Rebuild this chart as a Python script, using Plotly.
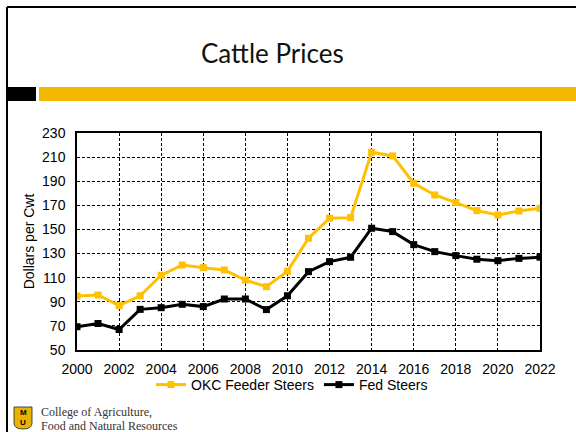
import plotly.graph_objects as go

years = list(range(2000, 2023))
okc_feeder = [94.8, 95.6, 86.8, 95.0, 112.0, 120.5, 118.3, 116.4, 108.0, 102.5, 115.3,
              142.7, 159.3, 159.8, 214.0, 211.0, 188.3, 178.6, 172.3, 165.6, 162.0, 165.3, 167.5]
fed_steers = [69.3, 72.0, 67.0, 83.7, 85.1, 87.9, 86.0, 92.3, 92.3, 83.5, 95.0,
              115.0, 123.3, 126.9, 151.0, 148.2, 137.4, 131.6, 128.3, 125.3, 124.1, 126.0, 127.0]
x_ticks = list(range(2000, 2023, 2))
y_ticks = list(range(50, 231, 20))

W, H = 576, 432
L, R, T, B = 77, 36, 133, 82
PW, PH = W - L - R, H - T - B


def px(x):
    return (x - L) / PW


def py(y):
    return (H - B - y) / PH


fig = go.Figure()
fig.add_trace(go.Scatter(x=years, y=okc_feeder, mode="lines+markers", name="OKC Feeder Steers",
                         line=dict(color="#FFC000", width=3),
                         marker=dict(symbol="square", size=7, color="#FFC000")))
fig.add_trace(go.Scatter(x=years, y=fed_steers, mode="lines+markers", name="Fed Steers",
                         line=dict(color="#000000", width=3),
                         marker=dict(symbol="square", size=7, color="#000000")))

axis_font = dict(family="Liberation Sans, Arial", size=14, color="#000")
grid = dict(showgrid=True, gridcolor="#000", griddash="3px,2px", gridwidth=0.8,
            showline=True, linecolor="#000", linewidth=1.5, mirror=True,
            tickfont=axis_font, zeroline=False, ticks="")
fig.update_layout(
    width=W, height=H, paper_bgcolor="white", plot_bgcolor="white",
    margin=dict(l=L, r=R, t=T, b=B, autoexpand=False),
    showlegend=True,
    legend=dict(orientation="h", x=px(292), xanchor="center", y=py(385), yanchor="middle",
                font=axis_font, tracegroupgap=0, itemwidth=30, bgcolor="rgba(0,0,0,0)"),
    xaxis=dict(range=[2000, 2022], tickvals=x_ticks, ticklabelstandoff=5, **grid),
    yaxis=dict(range=[50, 230], tickvals=y_ticks, ticklabelstandoff=7,
               title=dict(text="Dollars per Cwt", font=axis_font, standoff=4), **grid),
)

shapes = [
    # slide border
    dict(type="line", xref="paper", yref="paper", x0=px(7), x1=px(W), y0=py(7), y1=py(7),
         line=dict(color="#000", width=2)),
    dict(type="line", xref="paper", yref="paper", x0=px(7), x1=px(7), y0=py(H), y1=py(7),
         line=dict(color="#000", width=2)),
    # black block and gold bar
    dict(type="rect", xref="paper", yref="paper", x0=px(6), x1=px(36), y0=py(101), y1=py(87),
         fillcolor="#000", line=dict(width=0)),
    dict(type="rect", xref="paper", yref="paper", x0=px(39), x1=px(W), y0=py(101), y1=py(87),
         fillcolor="#F2B800", line=dict(width=0)),
    # logo shield
    dict(type="path", xref="paper", yref="paper",
         path=f"M {px(14)},{py(407)} L {px(32)},{py(407)} L {px(32)},{py(423)} "
              f"Q {px(32)},{py(429)} {px(23)},{py(429)} Q {px(14)},{py(429)} {px(14)},{py(423)} Z",
         fillcolor="#E8B400", line=dict(color="#222", width=0.8)),
]

annotations = [
    dict(text="Cattle Prices", x=px(272), y=py(53), xref="paper", yref="paper",
         showarrow=False, xanchor="center", yanchor="middle",
         font=dict(family="Lato", size=26, color="#111")),
    dict(text="<b>M</b>", x=px(23), y=py(412), xref="paper", yref="paper", showarrow=False,
         xanchor="center", yanchor="middle", font=dict(family="Liberation Sans", size=8, color="#000")),
    dict(text="<b>U</b>", x=px(23), y=py(422), xref="paper", yref="paper", showarrow=False,
         xanchor="center", yanchor="middle", font=dict(family="Liberation Sans", size=8, color="#000")),
    dict(text="College of Agriculture,", x=px(39), y=py(412), xref="paper", yref="paper",
         showarrow=False, xanchor="left", yanchor="middle",
         font=dict(family="Liberation Serif", size=12, color="#333")),
    dict(text="Food and Natural Resources", x=px(39), y=py(426), xref="paper", yref="paper",
         showarrow=False, xanchor="left", yanchor="middle",
         font=dict(family="Liberation Serif", size=12, color="#333")),
]
fig.update_layout(shapes=shapes, annotations=annotations)
fig.write_html("out.html", config={"displayModeBar": False},
               post_script="document.body.style.margin='0';document.body.style.overflow='hidden';")
